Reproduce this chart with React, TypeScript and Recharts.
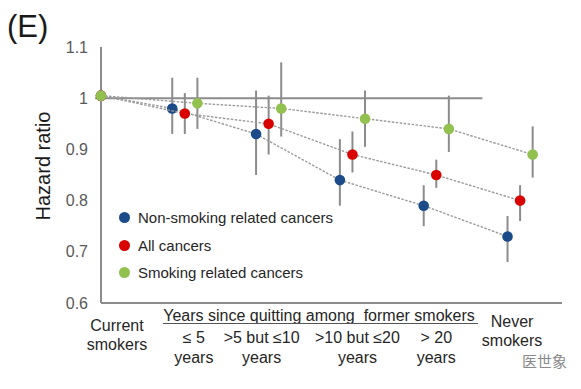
import React from 'react';
import {
  ComposedChart,
  Scatter,
  XAxis,
  YAxis,
  ErrorBar,
  ReferenceLine,
  Legend
} from 'recharts';

// categories along the x axis (0 = current smokers, 5 = never smokers)
const categories = ['Current smokers', '≤ 5 years', '>5 but ≤10 years', '>10 but ≤20 years', '> 20 years', 'Never smokers'];
const tickLines = [
  ['Current', 'smokers'],
  ['≤ 5', 'years'],
  ['>5 but ≤10', 'years'],
  ['>10 but ≤20', 'years'],
  ['> 20', 'years'],
  ['Never', 'smokers']
];
const yTicks = [0.6, 0.7, 0.8, 0.9, 1, 1.1];

const seriesNames = ['Non-smoking related cancers', 'All cancers', 'Smoking related cancers'];

// hazard ratios, current smokers = reference (~1)
const nonSmokingHR = [1.005, 0.98, 0.93, 0.84, 0.79, 0.73];
const nonSmokingLo = [1.005, 0.93, 0.85, 0.79, 0.75, 0.68];
const nonSmokingHi = [1.005, 1.04, 1.015, 0.92, 0.83, 0.77];

const allHR = [1.005, 0.97, 0.95, 0.89, 0.85, 0.8];
const allLo = [1.005, 0.93, 0.89, 0.855, 0.825, 0.76];
const allHi = [1.005, 1.01, 1.005, 0.935, 0.88, 0.83];

const smokingHR = [1.005, 0.99, 0.98, 0.96, 0.94, 0.89];
const smokingLo = [1.005, 0.94, 0.925, 0.905, 0.895, 0.845];
const smokingHi = [1.005, 1.04, 1.07, 1.015, 1.005, 0.945];

const colors = ['#1c4b8a', '#d90000', '#93c150'];
const offsets = [-0.15, 0, 0.15];
const axisGrey = '#8c8c8c';

function build(hr: number[], lo: number[], hi: number[], off: number) {
  return hr.map((v, i) => ({
    x: i === 0 ? 0 : i + off,
    y: v,
    err: [v - lo[i], hi[i] - v]
  }));
}

const seriesData = [
  build(nonSmokingHR, nonSmokingLo, nonSmokingHi, offsets[0]),
  build(allHR, allLo, allHi, offsets[1]),
  build(smokingHR, smokingLo, smokingHi, offsets[2])
];

// label nudges relative to category position
const tickDx = [16, 9, -7, 5, 0, -8];

const CategoryTick = (props: any) => {
  const { x, payload } = props;
  const i = Math.round(payload.value);
  const lines = tickLines[i];
  if (!lines) return null;
  const first = i === 0 ? 331 : i === 5 ? 327 : 343;
  const gap = i === 0 || i === 5 ? 19 : 20;
  return (
    <g>
      {lines.map((t, k) => (
        <text
          key={k}
          x={x + tickDx[i]}
          y={first + k * gap}
          textAnchor="middle"
          fontSize={16}
          fill="#262626"
        >
          {t}
        </text>
      ))}
    </g>
  );
};

const Dot = (color: string) => (p: any) => <circle cx={p.cx} cy={p.cy} r={5.3} fill={color} />;

const LegendBox = () => (
  <div style={{ fontSize: 15, color: '#262626' }}>
    {seriesNames.map((n, i) => (
      <div key={n} style={{ display: 'flex', alignItems: 'center', height: 27.5 }}>
        <span
          style={{
            display: 'inline-block',
            width: 11,
            height: 11,
            borderRadius: '50%',
            background: colors[i],
            marginRight: 8
          }}
        />
        <span>{n}</span>
      </div>
    ))}
  </div>
);

export default function App() {
  return (
    <div
      style={{
        position: 'absolute',
        left: 0,
        top: 0,
        width: 581,
        height: 389,
        background: '#fff',
        fontFamily: '"Liberation Sans", Arial, sans-serif'
      }}
    >
      <ComposedChart width={581} height={389} margin={{ top: 47, right: 19, bottom: 0, left: 0 }}>
        <XAxis
          type="number"
          dataKey="x"
          domain={[0, 5.5]}
          ticks={[0, 1, 2, 3, 4, 5]}
          height={86}
          tickLine={false}
          axisLine={{ stroke: axisGrey, strokeWidth: 2 }}
          tick={<CategoryTick />}
          allowDuplicatedCategory={false}
        />
        <YAxis
          type="number"
          dataKey="y"
          domain={[0.6, 1.1]}
          ticks={yTicks}
          width={101}
          tickLine={false}
          tickMargin={7}
          axisLine={{ stroke: axisGrey, strokeWidth: 2 }}
          tick={{ fontSize: 16, fill: '#595959' }}
          tickFormatter={(v: number) => String(v)}
        />
        <ReferenceLine
          segment={[{ x: -0.07, y: 1 }, { x: 4.55, y: 1 }]}
          stroke={axisGrey}
          strokeWidth={2}
          ifOverflow="visible"
        />
        {seriesData.map((d, i) => (
          <Scatter
            key={seriesNames[i]}
            name={seriesNames[i]}
            data={d}
            fill={colors[i]}
            line={{ stroke: '#9a9a9a', strokeWidth: 1.4, strokeDasharray: '2.5 1.5' }}
            shape={Dot(colors[i])}
            isAnimationActive={false}
          >
            <ErrorBar dataKey="err" direction="y" width={0} stroke={axisGrey} strokeWidth={2} />
          </Scatter>
        ))}
        <Legend
          layout="vertical"
          align="center"
          verticalAlign="middle"
          content={<LegendBox />}
          wrapperStyle={{ left: 119, top: 204, width: 'auto' }}
        />
      </ComposedChart>
      <svg
        width={581}
        height={389}
        style={{ position: 'absolute', left: 0, top: 0, pointerEvents: 'none' }}
      >
        <text x={7} y={37} fontSize={31} fill="#1a1a1a">(E)</text>
        <text
          x={0}
          y={0}
          transform="translate(50,166) rotate(-90)"
          textAnchor="middle"
          fontSize={20}
          fill="#1a1a1a"
        >
          Hazard ratio
        </text>
        <text
          x={319}
          y={321}
          textAnchor="middle"
          fontSize={16}
          fill="#262626"
          style={{ whiteSpace: 'pre' }}
        >
          {'Years since quitting among  former smokers'}
        </text>
        <line x1={163} x2={478} y1={323.5} y2={323.5} stroke="#555" strokeWidth={1} />
        <text x={522} y={367} fontSize={15} fill="#8a8a8a" fontFamily='"Noto Sans CJK SC", sans-serif'>
          医世象
        </text>
      </svg>
    </div>
  );
}
